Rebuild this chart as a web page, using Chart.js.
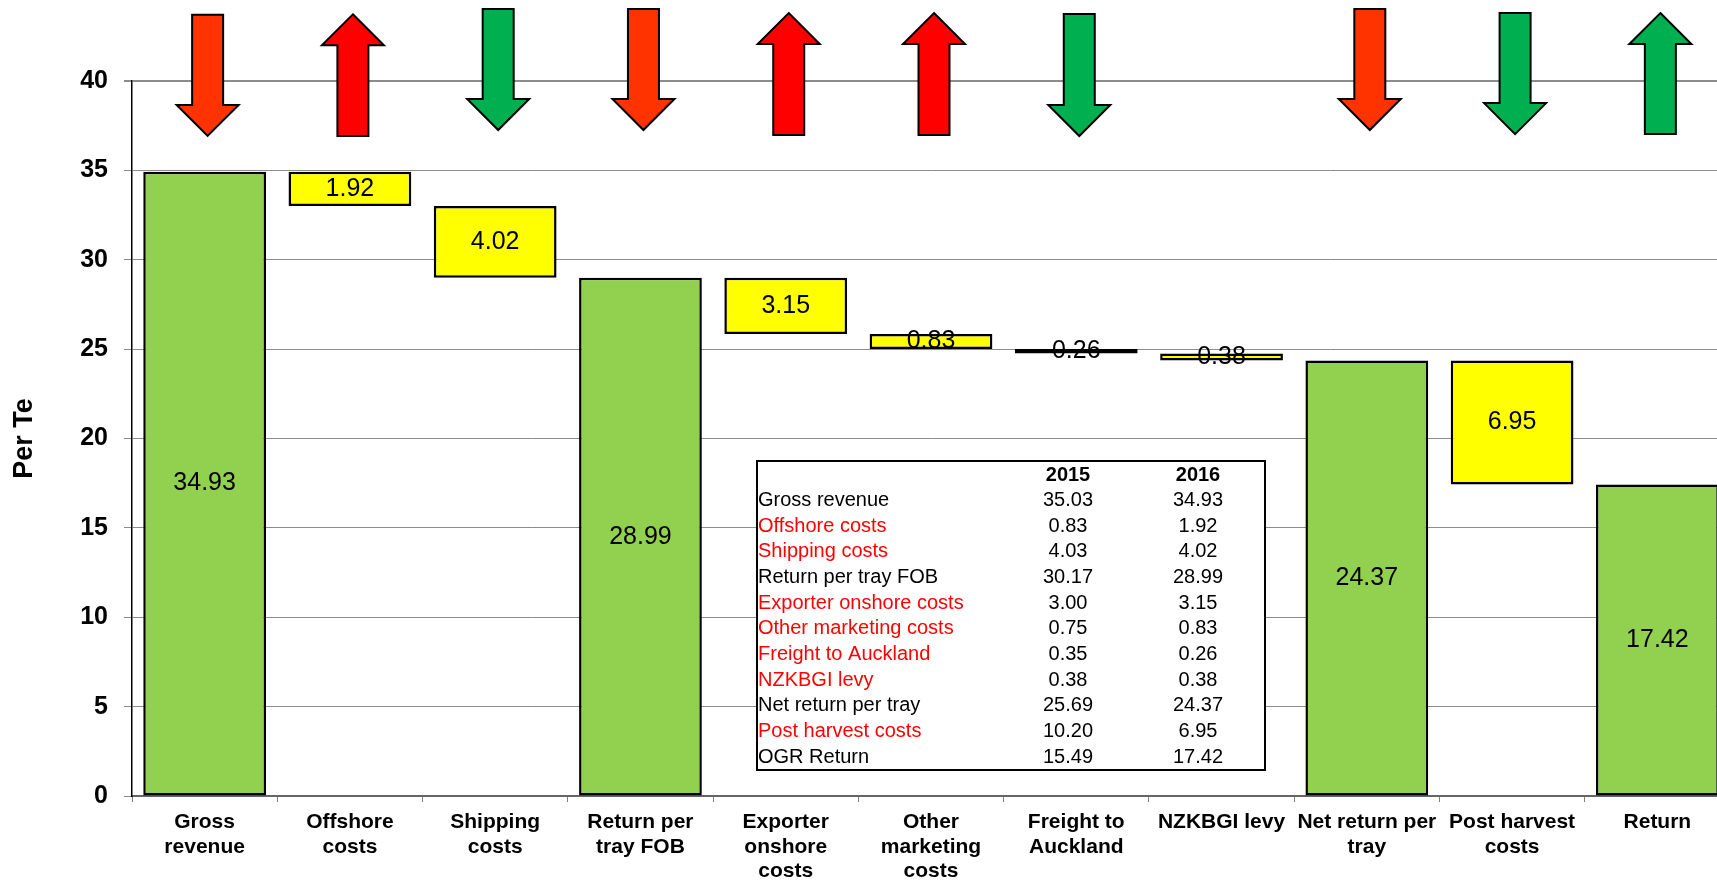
<!DOCTYPE html>
<html>
<head>
<meta charset="utf-8">
<script src="https://cdn.jsdelivr.net/npm/chart.js@4.4.1/dist/chart.umd.min.js"></script>
<style>
  html, body { margin: 0; padding: 0; overflow: hidden; background: #fff; }
  #wrap { width: 1730px; height: 880px; }
</style>
</head>
<body>
<div id="wrap"><canvas id="waterfall" width="1730" height="880"></canvas></div>
<script>
// categories shown on the x axis (one array per line break)
const categories = [
  ['Gross', 'revenue'],
  ['Offshore', 'costs'],
  ['Shipping', 'costs'],
  ['Return per', 'tray FOB'],
  ['Exporter', 'onshore', 'costs'],
  ['Other', 'marketing', 'costs'],
  ['Freight to', 'Auckland'],
  ['NZKBGI levy'],
  ['Net return per', 'tray'],
  ['Post harvest', 'costs'],
  ['Return']
]

// waterfall: bottom and top of each floating bar, plus the value written in it
const barBottom = [0, 33.01, 28.99, 0, 25.84, 25.01, 24.75, 24.37, 0, 17.42, 0]
const barTop = [34.93, 34.93, 33.01, 28.99, 28.99, 25.84, 25.01, 24.75, 24.37, 24.37, 17.42]
const barValue = [34.93, 1.92, 4.02, 28.99, 3.15, 0.83, 0.26, 0.38, 24.37, 6.95, 17.42]
const barKind = ['total', 'cost', 'cost', 'total', 'cost', 'cost', 'cost', 'cost', 'total', 'cost', 'total']

// arrows above the bars: direction, colour kind, top and bottom (in axis units)
const arrowDir = ['down', 'up', 'down', 'down', 'up', 'up', 'down', null, 'down', 'down', 'up']
const arrowKind = ['worse', 'bad', 'good', 'worse', 'bad', 'bad', 'good', null, 'worse', 'good', 'good']
const arrowTop = [43.7, 43.73, 44.03, 44.03, 43.8, 43.8, 43.75, null, 44.03, 43.8, 43.8]
const arrowBottom = [36.93, 36.92, 37.26, 37.26, 36.98, 36.98, 36.92, null, 37.26, 37.03, 37.03]

// table inset
const tableYears = ['2015', '2016']
const tableLabels = ['Gross revenue', 'Offshore costs', 'Shipping costs', 'Return per tray FOB',
  'Exporter onshore costs', 'Other marketing costs', 'Freight to Auckland', 'NZKBGI levy',
  'Net return per tray', 'Post harvest costs', 'OGR Return']
const table2015 = ['35.03', '0.83', '4.03', '30.17', '3.00', '0.75', '0.35', '0.38', '25.69', '10.20', '15.49']
const table2016 = ['34.93', '1.92', '4.02', '28.99', '3.15', '0.83', '0.26', '0.38', '24.37', '6.95', '17.42']
const tableIsCost = [false, true, true, false, true, true, true, true, false, true, false]

const FONT = '"Liberation Sans", Arial, sans-serif'
const barColors = { total: '#92D050', cost: '#FFFF00' }
const arrowColors = { worse: '#FF3300', bad: '#FF0000', good: '#00B050' }

const barLabels = {
  id: 'barLabels',
  afterDatasetsDraw(chart) {
    const ctx = chart.ctx
    const meta = chart.getDatasetMeta(0)
    ctx.save()
    ctx.font = '25px ' + FONT
    ctx.fillStyle = '#000'
    ctx.textAlign = 'center'
    ctx.textBaseline = 'middle'
    meta.data.forEach((bar, i) => {
      ctx.fillText(barValue[i].toFixed(2), bar.x, (bar.y + bar.base) / 2)
    })
    ctx.restore()
  }
}

const arrows = {
  id: 'arrows',
  afterDraw(chart) {
    const ctx = chart.ctx
    const xs = chart.scales.x
    const ys = chart.scales.y
    const shaft = 15.5
    const head = 31
    const headLen = 31
    ctx.save()
    ctx.lineWidth = 2
    ctx.strokeStyle = '#000'
    ctx.lineJoin = 'miter'
    arrowDir.forEach((dir, i) => {
      if (!dir) return
      const cx = xs.getPixelForValue(i) + 3
      const t = ys.getPixelForValue(arrowTop[i])
      const b = ys.getPixelForValue(arrowBottom[i])
      ctx.beginPath()
      if (dir === 'down') {
        ctx.moveTo(cx - shaft, t)
        ctx.lineTo(cx + shaft, t)
        ctx.lineTo(cx + shaft, b - headLen)
        ctx.lineTo(cx + head, b - headLen)
        ctx.lineTo(cx, b)
        ctx.lineTo(cx - head, b - headLen)
        ctx.lineTo(cx - shaft, b - headLen)
      } else {
        ctx.moveTo(cx, t)
        ctx.lineTo(cx + head, t + headLen)
        ctx.lineTo(cx + shaft, t + headLen)
        ctx.lineTo(cx + shaft, b)
        ctx.lineTo(cx - shaft, b)
        ctx.lineTo(cx - shaft, t + headLen)
        ctx.lineTo(cx - head, t + headLen)
      }
      ctx.closePath()
      ctx.fillStyle = arrowColors[arrowKind[i]]
      ctx.fill()
      ctx.stroke()
    })
    ctx.restore()
  }
}

const dataTable = {
  id: 'dataTable',
  afterDraw(chart) {
    const ctx = chart.ctx
    const left = 757, top = 461, right = 1265, bottom = 770
    const rowH = 25.65
    const firstRow = 475
    const col1 = 1068, col2 = 1198
    ctx.save()
    ctx.fillStyle = '#fff'
    ctx.fillRect(left, top, right - left, bottom - top)
    ctx.lineWidth = 2
    ctx.strokeStyle = '#000'
    ctx.strokeRect(left, top, right - left, bottom - top)
    ctx.textBaseline = 'middle'
    ctx.textAlign = 'center'
    ctx.fillStyle = '#000'
    ctx.font = 'bold 20px ' + FONT
    ctx.fillText(tableYears[0], col1, firstRow)
    ctx.fillText(tableYears[1], col2, firstRow)
    ctx.font = '20px ' + FONT
    tableLabels.forEach((lab, i) => {
      const y = firstRow + rowH * (i + 1)
      ctx.textAlign = 'left'
      ctx.fillStyle = tableIsCost[i] ? '#FF0000' : '#000'
      ctx.fillText(lab, left + 1, y)
      ctx.fillStyle = '#000'
      ctx.textAlign = 'center'
      ctx.fillText(table2015[i], col1, y)
      ctx.fillText(table2016[i], col2, y)
    })
    ctx.restore()
  }
}

const ctxW = document.getElementById('waterfall')
const chartW = new Chart(ctxW, {
  type: 'bar',
  data: {
    labels: categories,
    datasets: [{
      data: barBottom.map((b, i) => [b, barTop[i]]),
      backgroundColor: barKind.map(k => barColors[k]),
      borderColor: '#000',
      borderWidth: 2.5,
      borderSkipped: false,
      categoryPercentage: 1,
      barPercentage: 0.845
    }]
  },
  options: {
    responsive: false,
    animation: false,
    layout: { padding: { top: 81, left: 0, right: 0, bottom: 0 } },
    plugins: {
      legend: { display: false },
      tooltip: { enabled: false },
      title: { display: false }
    },
    scales: {
      x: {
        offset: true,
        afterFit: (scale) => { scale.height = 84 },
        grid: {
          offset: true,
          drawOnChartArea: false,
          drawTicks: true,
          tickLength: 6,
          color: '#808080'
        },
        border: { color: '#666', width: 2 },
        ticks: {
          color: '#000',
          font: { family: FONT, size: 21, weight: 'bold', lineHeight: 1.17 },
          maxRotation: 0,
          autoSkip: false,
          padding: 8
        }
      },
      y: {
        min: 0,
        max: 40,
        afterFit: (scale) => { scale.width = 132 },
        ticks: {
          stepSize: 5,
          color: '#000',
          font: { family: FONT, size: 25, weight: 'bold' },
          padding: 16
        },
        grid: {
          color: '#8c8c8c',
          lineWidth: (c) => (c.tick && c.tick.value === 40 ? 2 : 1),
          tickLength: 8
        },
        border: { color: '#000', width: 1.5 },
        title: {
          display: true,
          text: 'Per Te',
          color: '#000',
          font: { family: FONT, size: 27, weight: 'bold' },
          padding: { top: 8, bottom: 0 }
        }
      }
    }
  },
  plugins: [barLabels, arrows, dataTable]
})
</script>
</body>
</html>
